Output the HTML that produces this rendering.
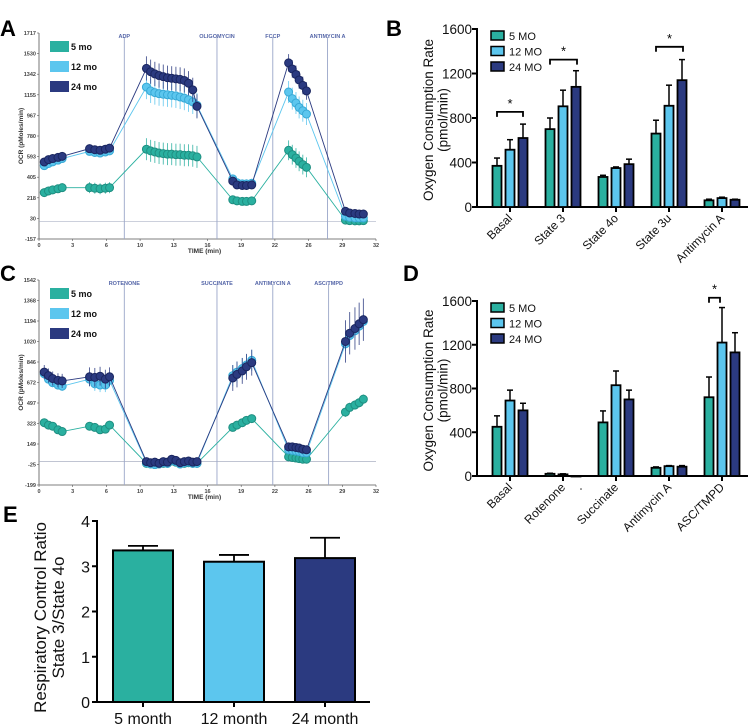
<!DOCTYPE html>
<html><head><meta charset="utf-8"><style>
html,body{margin:0;padding:0;background:#fff;}
svg{display:block;font-family:"Liberation Sans",Arial,sans-serif;}
</style></head><body>
<svg id="fig" width="750" height="727" viewBox="0 0 750 727"></svg>
<script>
// ---------- DATA ----------
const seriesNames = ['5 mo','12 mo','24 mo'];
const barSeriesNames = ['5 MO','12 MO','24 MO'];
const timeGroups = [[0.5,0.9,1.3,1.8,2.2],[4.8,5.3,5.8,6.3,6.7],[10.2,10.6,11.0,11.4,11.8,12.2,12.6,13.0,13.4,13.8,14.2,14.6,15.0],[18.4,18.8,19.3,19.7,20.2],[23.7,24.05,24.4,24.7,25.05,25.4],[29.1,29.5,30.0,30.4,30.8]];
const timeTickLabels = ['0','3','6','10','13','16','19','22','26','29','32'];
// Panel A
const aTicks = ['1717','1530','1342','1155','967','780','593','405','218','30','-157'];
const aEvents = ['ADP','OLIGOMYCIN','FCCP','ANTIMYCIN A'];
const aEventTimes = [8.1,16.9,22.2,27.4];
const a5 = [265,280,290,300,310, 310,305,300,305,310, 660,645,635,625,620,615,615,610,610,605,605,600,590, 200,190,185,185,190, 650,610,580,550,520,495, 15,10,8,8,10];
const a12 = [510,530,545,560,575, 640,630,625,635,645, 1225,1190,1175,1165,1160,1155,1150,1145,1135,1125,1110,1090,1060, 390,355,345,345,350, 1180,1120,1080,1040,1010,980, 50,40,35,35,35];
const a24 = [544,565,575,585,595, 665,655,650,660,670, 1395,1365,1345,1330,1320,1310,1305,1300,1295,1285,1260,1200,1050, 370,335,330,330,335, 1445,1390,1340,1290,1240,1190, 95,80,75,70,70];
const aErr5 = [40,50,100,20,90,15];
const aErr12 = [30,30,110,40,100,15];
const aErr24 = [30,30,110,40,80,20];
// Panel C
const cTicks = ['1542','1368','1194','1020','846','672','497','323','149','-25','-199'];
const cEvents = ['ROTENONE','SUCCINATE','ANTIMYCIN A','ASC/TMPD'];
const cEventTimes = [8.1,16.9,22.2,27.5];
const c5 = [330,310,300,270,255, 300,290,270,275,310, -15,-20,-25,-20,-15,-15,5,-5,-20,-15,-10,-15,-15, 290,310,330,350,365, 40,35,30,25,20,20, 420,460,480,500,530];
const c12 = [745,700,670,650,640, 700,660,650,650,690, -10,-20,-25,-20,-10,-15,10,0,-20,-10,-5,-15,-15, 730,760,790,820,860, 100,95,90,85,75,75, 1000,1070,1110,1150,1190];
const c24 = [760,730,705,690,685, 720,715,725,700,720, 0,-10,-5,-15,0,-5,20,10,-10,0,5,-5,0, 710,740,770,805,840, 125,125,120,115,105,100, 1020,1090,1130,1170,1205];
const cErr5 = [20,20,20,30,20,40];
const cErr12 = [40,60,30,90,20,60];
const cErr24 = [60,80,30,110,20,180];
// Panel B
const bCats = ['Basal','State 3','State 4o','State 3u','Antimycin A'];
const bTicks = [0,400,800,1200,1600];
const b5 = [370,700,270,660,60];
const b12 = [515,905,350,910,80];
const b24 = [620,1080,385,1140,65];
const bErr5 = [70,100,15,120,10];
const bErr12 = [90,145,10,185,8];
const bErr24 = [125,145,45,185,5];
// Panel D
const dCats = ['Basal','Rotenone','Succinate','Antimycin A','ASC/TMPD'];
const d5 = [450,20,490,75,720];
const d12 = [690,15,830,90,1220];
const d24 = [600,0,700,85,1130];
const dErr5 = [100,5,105,8,185];
const dErr12 = [95,5,130,5,320];
const dErr24 = [65,0,85,10,180];
// Panel E
const eCats = ['5 month','12 month','24 month'];
const eTicks = [0,1,2,3,4];
const eVals = [3.35,3.1,3.18];
const eErr = [0.1,0.15,0.45];

// ---------- HELPERS ----------
const NS='http://www.w3.org/2000/svg';
const svg=document.getElementById('fig');
function mk(tag,attrs,parent,text){const e=document.createElementNS(NS,tag);for(const k in attrs)e.setAttribute(k,attrs[k]);if(text!==undefined)e.textContent=text;(parent||svg).appendChild(e);return e;}
const colFill=['#2ab0a0','#5cc6ee','#2b3a80'];
const colStroke=['#1f8f82','#38a9d6','#1a2660'];

function panelLabel(t,x,y){
  const e=mk('text',{x:x,y:y,'font-size':22,'font-weight':'bold',fill:'#000'},svg,t);
  
  
}
panelLabel('A',0,36);panelLabel('B',386,36);panelLabel('C',0,281);panelLabel('D',403,281);panelLabel('E',3,522);

function timeChart(id,top,bottom,ticks,events,eventTimes,series,errs,zeroVal){
  const g=mk('g',{});
  
  
  const x0=39,x1=376;
  const vmax=+ticks[0],vmin=+ticks[ticks.length-1];
  const X=t=>x0+(t/32)*(x1-x0);
  const Y=v=>top+(vmax-v)/(vmax-vmin)*(bottom-top);
  mk('line',{x1:x0,y1:top,x2:x0,y2:bottom,stroke:'#555','stroke-width':0.8},g);
  mk('line',{x1:x0,y1:bottom,x2:x1,y2:bottom,stroke:'#555','stroke-width':0.8},g);
  mk('line',{x1:x0,y1:Y(zeroVal),x2:x1,y2:Y(zeroVal),stroke:'#9aa0b8','stroke-width':0.6},g);
  ticks.forEach((t,i)=>{
    const y=top+i*(bottom-top)/(ticks.length-1);
    mk('line',{x1:x0-2,y1:y,x2:x0,y2:y,stroke:'#555','stroke-width':0.6},g);
    const tx=mk('text',{x:x0-3,y:y+2,'font-size':5.5,'font-weight':'bold','text-anchor':'end',fill:'#444'},g,t);
    
    
  });
  timeTickLabels.forEach((t,i)=>{
    const x=x0+i*(x1-x0)/10;
    mk('line',{x1:x,y1:bottom,x2:x,y2:bottom+2,stroke:'#555','stroke-width':0.6},g);
    const tx=mk('text',{x:x,y:bottom+8,'font-size':5.5,'font-weight':'bold','text-anchor':'middle',fill:'#444'},g,t);
    
    
  });
  const xt=mk('text',{x:(x0+x1)/2-3,y:bottom+14,'font-size':6.5,'font-weight':'bold','text-anchor':'middle',fill:'#333'},g,'TIME (min)');
  
  
  const yt=mk('text',{x:0,y:0,'font-size':6.5,'font-weight':'bold','text-anchor':'middle',fill:'#333',transform:'translate(23,'+((top+bottom)/2)+') rotate(-90)'},g,'OCR (pMoles/min)');
  
  
  events.forEach((ev,i)=>{
    const x=X(eventTimes[i]);
    const l=mk('line',{x1:x,y1:top+4,x2:x,y2:bottom,stroke:'#9aa6c8','stroke-width':0.9},g);
    
    
    const tx=mk('text',{x:x,y:top+5,'font-size':5.5,'font-weight':'bold','text-anchor':'middle',fill:'#5566a8'},g,ev);
    
    
  });
  series.forEach((vals,s)=>{
    const sg=mk('g',{},g);
    
    
    const pts=[];let k=0;
    timeGroups.forEach((grp,gi)=>{grp.forEach(t=>{pts.push([X(t),Y(vals[k]),gi,vals[k]]);k++;});});
    pts.forEach(p=>{
      const e=errs[s][p[2]];
      mk('line',{x1:p[0],y1:Y(p[3]+e),x2:p[0],y2:Y(p[3]-e),stroke:colFill[s],'stroke-width':0.9,opacity:0.85},sg);
    });
    mk('polyline',{points:pts.map(p=>p[0]+','+p[1]).join(' '),fill:'none',stroke:colFill[s],'stroke-width':0.9},sg);
    pts.forEach(p=>{
      const c=mk('circle',{cx:p[0],cy:p[1],r:4,fill:colFill[s],stroke:colStroke[s],'stroke-width':1},sg);
      
      
    });
  });
  seriesNames.forEach((n,i)=>{
    const y=top+8+i*20;
    const r=mk('rect',{x:50,y:y,width:19,height:11,fill:colFill[i]},g);
    
    
    const tx=mk('text',{x:71,y:y+9,'font-size':9,'font-weight':'bold',fill:'#111'},g,n);
    
    
  });
}
timeChart('a',33,239,aTicks,aEvents,aEventTimes,[a5,a12,a24],[aErr5,aErr12,aErr24],0);
timeChart('c',280,485,cTicks,cEvents,cEventTimes,[c5,c12,c24],[cErr5,cErr12,cErr24],0);

function barChart(id,top,bottom,cats,vals,errs,brackets){
  const g=mk('g',{});
  
  
  const ax=477,xr=748;
  const Y=v=>bottom-v/1600*(bottom-top);
  const centers=[510,563,616,669,722];
  mk('line',{x1:ax,y1:top-1,x2:ax,y2:bottom+1,stroke:'#000','stroke-width':2},g);
  mk('line',{x1:ax,y1:bottom,x2:xr,y2:bottom,stroke:'#000','stroke-width':2},g);
  bTicks.forEach(t=>{
    const y=Y(t);
    mk('line',{x1:ax-5,y1:y,x2:ax,y2:y,stroke:'#000','stroke-width':2},g);
    const tx=mk('text',{x:ax-5,y:y+5,'font-size':13.5,'text-anchor':'end',fill:'#111'},g,String(t));
    
    
  });
  const yt=mk('text',{'font-size':13.5,'text-anchor':'middle',fill:'#111',transform:'translate(433,'+((top+bottom)/2+2)+') rotate(-90)'},g);
  
  
  mk('tspan',{x:0,y:0},yt,'Oxygen Consumption Rate');
  mk('tspan',{x:0,y:14.5},yt,'(pmol/min)');
  cats.forEach((c,i)=>{
    const cx=centers[i];
    mk('line',{x1:cx,y1:bottom,x2:cx,y2:bottom+5,stroke:'#000','stroke-width':2},g);
    const tx=mk('text',{'font-size':12,'text-anchor':'end',fill:'#111',transform:'translate('+(cx+3)+','+(bottom+12)+') rotate(-45)'},g,c);
    
    
    [0,1,2].forEach(s=>{
      const bx=cx+(s-1)*13-4.5, v=vals[s][i], e=errs[s][i];
      if(e>0){
        mk('line',{x1:bx+4.5,y1:Y(v),x2:bx+4.5,y2:Y(v+e),stroke:'#000','stroke-width':1.5},g);
        mk('line',{x1:bx+1.5,y1:Y(v+e),x2:bx+7.5,y2:Y(v+e),stroke:'#000','stroke-width':1.5},g);
      }
      const r=mk('rect',{x:bx,y:Y(v),width:9,height:Math.max(bottom-Y(v),0.5),fill:colFill[s],stroke:'#000','stroke-width':1.8},g);
      
      
    });
  });
  brackets.forEach(b=>{
    const y=Y(b[2]);
    const x1=centers[b[0]]-13, x2=centers[b[0]]+b[1];
    mk('path',{d:'M'+x1+','+(y+5)+' V'+y+' H'+x2+' V'+(y+5),fill:'none',stroke:'#000','stroke-width':1.8},g);
    const st=mk('text',{x:(x1+x2)/2,y:y-4,'font-size':13,'text-anchor':'middle',fill:'#000'},g,'*');
    
    
  });
  barSeriesNames.forEach((n,i)=>{
    const y=top+2+i*15.5;
    const r=mk('rect',{x:491,y:y,width:13,height:9,fill:colFill[i],stroke:'#000','stroke-width':1.5},g);
    
    
    const tx=mk('text',{x:509,y:y+9,'font-size':11,fill:'#111'},g,n);
    
    
  });
}
barChart('b',29,207,bCats,[b5,b12,b24],[bErr5,bErr12,bErr24],[[0,13,855],[1,14,1325],[3,14,1440]]);
barChart('d',301,476,dCats,[d5,d12,d24],[dErr5,dErr12,dErr24],[[4,-2,1630]]);
mk('circle',{cx:581,cy:489,r:0.8,fill:'#333'});

// Panel E
(function(){
  const g=mk('g',{});
  
  
  const ax=97,xr=370,top=521,bottom=702;
  const Y=v=>bottom-v/4*(bottom-top);
  const centers=[143,234,325];
  mk('line',{x1:ax,y1:top-1,x2:ax,y2:bottom+1,stroke:'#000','stroke-width':2},g);
  mk('line',{x1:ax,y1:bottom,x2:xr,y2:bottom,stroke:'#000','stroke-width':2},g);
  eTicks.forEach(t=>{
    const y=Y(t);
    mk('line',{x1:ax-5,y1:y,x2:ax,y2:y,stroke:'#000','stroke-width':2},g);
    const tx=mk('text',{x:ax-7,y:y+6,'font-size':16,'text-anchor':'end',fill:'#111'},g,String(t));
    
    
  });
  const yt=mk('text',{'font-size':17,'text-anchor':'middle',fill:'#111',transform:'translate(46,'+((top+bottom)/2+6)+') rotate(-90)'},g);
  
  
  mk('tspan',{x:0,y:0},yt,'Respiratory Control Ratio');
  mk('tspan',{x:0,y:18},yt,'State 3/State 4o');
  eCats.forEach((c,i)=>{
    const cx=centers[i],v=eVals[i],e=eErr[i];
    mk('line',{x1:cx,y1:bottom,x2:cx,y2:bottom+5,stroke:'#000','stroke-width':2},g);
    mk('line',{x1:cx,y1:Y(v),x2:cx,y2:Y(v+e),stroke:'#000','stroke-width':1.8},g);
    mk('line',{x1:cx-15,y1:Y(v+e),x2:cx+15,y2:Y(v+e),stroke:'#000','stroke-width':1.8},g);
    const r=mk('rect',{x:cx-30,y:Y(v),width:60,height:bottom-Y(v),fill:colFill[i],stroke:'#000','stroke-width':2},g);
    
    
    const tx=mk('text',{x:cx,y:bottom+22,'font-size':16,'text-anchor':'middle',fill:'#111'},g,c);
    
    
  });
})();
</script>
</body></html>
